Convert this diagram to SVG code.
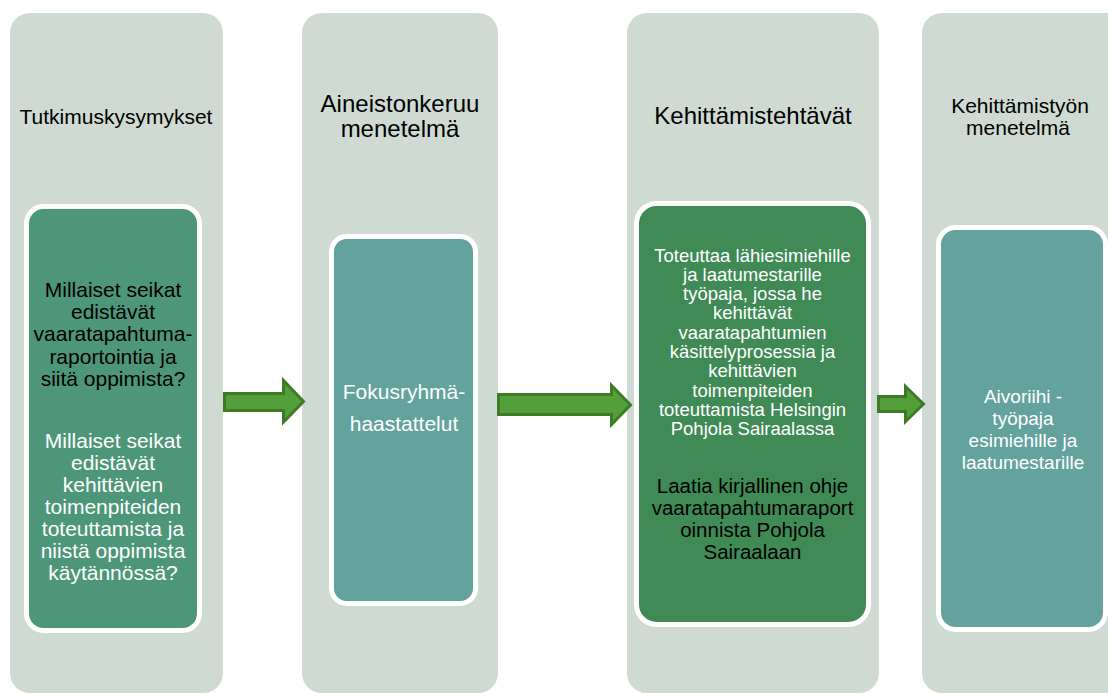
<svg xmlns="http://www.w3.org/2000/svg" width="1108" height="693" viewBox="0 0 1108 693">
<style>
.col{fill:#cfdad2;}
.box{stroke:#ffffff;stroke-width:5;}
.t{font-family:"Liberation Sans",Arial,sans-serif;text-anchor:middle;}
.blk{fill:#000000;}
.wht{fill:#ffffff;}
.arr{fill:#53a03a;stroke:#3e7b27;stroke-width:3;stroke-linejoin:miter;}
</style>
<rect width="1108" height="693" fill="#ffffff"/>
<g id="col1">
<rect class="col" x="10" y="13" width="213" height="680" rx="20"/>
<text class="t blk" x="116" y="124" font-size="21">Tutkimuskysymykset</text>
<rect class="box" x="26.5" y="206.5" width="173" height="424" rx="17" fill="#4e967a"/>
<text class="t blk" font-size="21"><tspan x="113" y="297">Millaiset seikat</tspan><tspan x="113" y="319.2">edistävät</tspan><tspan x="113" y="341.4">vaaratapahtuma-</tspan><tspan x="113" y="363.6">raportointia ja</tspan><tspan x="113" y="385.8">siitä oppimista?</tspan></text>
<text class="t wht" font-size="21"><tspan x="113" y="447.5">Millaiset seikat</tspan><tspan x="113" y="469.5">edistävät</tspan><tspan x="113" y="491.5">kehittävien</tspan><tspan x="113" y="513.5">toimenpiteiden</tspan><tspan x="113" y="535.5">toteuttamista ja</tspan><tspan x="113" y="557.5">niistä oppimista</tspan><tspan x="113" y="579.5">käytännössä?</tspan></text>
</g>
<g id="col2">
<rect class="col" x="302" y="13" width="196" height="680" rx="20"/>
<text class="t blk" font-size="24"><tspan x="400" y="112">Aineistonkeruu</tspan><tspan x="400" y="137">menetelmä</tspan></text>
<rect class="box" x="331.5" y="236.5" width="144" height="367" rx="15" fill="#64a29e"/>
<text class="t wht" font-size="21"><tspan x="404" y="399">Fokusryhmä-</tspan><tspan x="404" y="430.5">haastattelut</tspan></text>
</g>
<g id="col3">
<rect class="col" x="627" y="13" width="252" height="680" rx="20"/>
<text class="t blk" x="753" y="124" font-size="24">Kehittämistehtävät</text>
<rect class="box" x="636.5" y="203.5" width="232" height="421" rx="20" fill="#3f8a55"/>
<text class="t wht" font-size="18.5"><tspan x="752.5" y="261.5">Toteuttaa lähiesimiehille</tspan><tspan x="752.5" y="280.8">ja laatumestarille</tspan><tspan x="752.5" y="300.1">työpaja, jossa he</tspan><tspan x="752.5" y="319.4">kehittävät</tspan><tspan x="752.5" y="338.7">vaaratapahtumien</tspan><tspan x="752.5" y="358">käsittelyprosessia ja</tspan><tspan x="752.5" y="377.3">kehittävien</tspan><tspan x="752.5" y="396.6">toimenpiteiden</tspan><tspan x="752.5" y="415.9">toteuttamista Helsingin</tspan><tspan x="752.5" y="435.2">Pohjola Sairaalassa</tspan></text>
<text class="t blk" font-size="20.5"><tspan x="752.5" y="492.5">Laatia kirjallinen ohje</tspan><tspan x="752.5" y="514.5">vaaratapahtumaraport</tspan><tspan x="752.5" y="536.5">oinnista Pohjola</tspan><tspan x="752.5" y="558.5">Sairaalaan</tspan></text>
</g>
<g id="col4">
<rect class="col" x="922" y="13" width="220" height="680" rx="20"/>
<text class="t blk" font-size="21"><tspan x="1020" y="113">Kehittämistyön</tspan><tspan x="1018" y="135">menetelmä</tspan></text>
<rect class="box" x="938.5" y="227.5" width="167" height="402" rx="17" fill="#64a29e"/>
<text class="t wht" font-size="19"><tspan x="1023" y="403">Aivoriihi -</tspan><tspan x="1023" y="425">työpaja</tspan><tspan x="1023" y="447">esimiehille ja</tspan><tspan x="1023" y="469">laatumestarille</tspan></text>
</g>
<g id="connectors">
<path class="arr" d="M224.5,393.5 H283.5 V380.5 L303.5,401.5 L283.5,422 V410.5 H224.5 Z"/>
<path class="arr" d="M498.5,394.5 H611.5 V385.5 L630.5,405 L611.5,424.5 V414.5 H498.5 Z"/>
<path class="arr" d="M878.5,396.5 H905.5 V386.5 L923.5,404 L905.5,421.5 V411.5 H878.5 Z"/>
</g>
</svg>
